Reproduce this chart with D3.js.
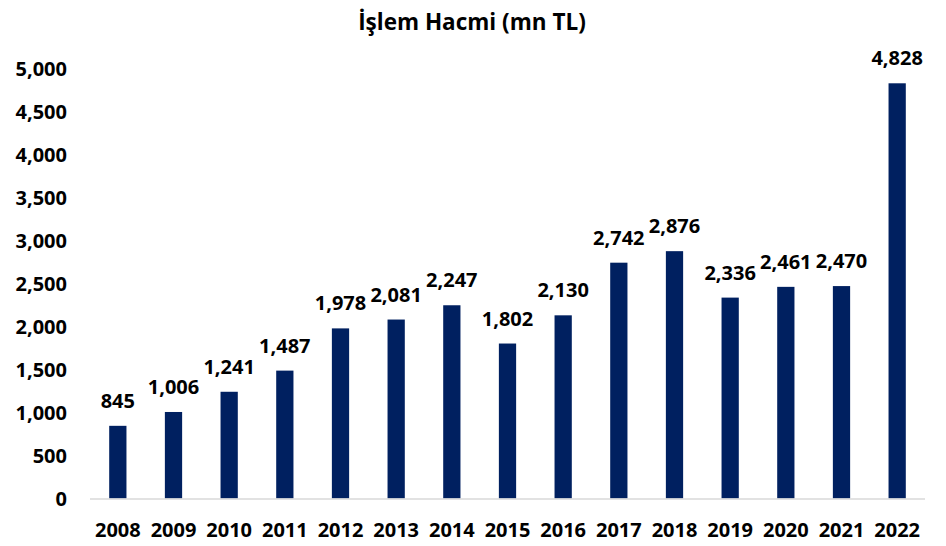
<!DOCTYPE html>
<html>
<head>
<meta charset="utf-8">
<script src="https://cdn.jsdelivr.net/npm/d3@7"></script>
<style>
  html, body { margin: 0; padding: 0; background: #fff; }
  svg text { font-family: "Open Sans", "DejaVu Sans", sans-serif; font-weight: 700; fill: #000; }
</style>
</head>
<body>
<svg id="chart" width="946" height="546"></svg>
<script>
const title = "İşlem Hacmi (mn TL)";
const years = ["2008","2009","2010","2011","2012","2013","2014","2015","2016","2017","2018","2019","2020","2021","2022"];
const values = [845, 1006, 1241, 1487, 1978, 2081, 2247, 1802, 2130, 2742, 2876, 2336, 2461, 2470, 4828];
const yTicks = [0, 500, 1000, 1500, 2000, 2500, 3000, 3500, 4000, 4500, 5000];

const svg = d3.select("#chart");
const fmt = d3.format(",");
const fs = "20px";

const x = d3.scaleBand().domain(years).range([90, 925]).paddingInner(0.69).paddingOuter(0.345);
const y = d3.scaleLinear().domain([0, 5000]).range([498.5, 68.5]);

svg.append("text")
  .attr("x", 472).attr("y", 30)
  .attr("text-anchor", "middle")
  .style("font-size", "22.5px")
  .text(title);

// y axis labels
const yAxis = d3.axisLeft(y).tickValues(yTicks).tickFormat(fmt).tickSize(0).tickPadding(0);
const gy = svg.append("g").attr("transform", "translate(67,0)").call(yAxis);
gy.select(".domain").remove();
gy.selectAll("text").style("font-size", fs).style("font-family", null).attr("dy", "0.35em");

// bars
svg.append("g").selectAll("rect").data(values).join("rect")
  .attr("x", (d, i) => x(years[i]))
  .attr("width", x.bandwidth())
  .attr("y", d => y(d))
  .attr("height", d => y(0) - y(d))
  .attr("fill", "#002060");

// baseline
svg.append("line")
  .attr("x1", 90).attr("x2", 925)
  .attr("y1", y(0) + 0.5).attr("y2", y(0) + 0.5)
  .attr("stroke", "#d9d9d9").attr("stroke-width", 1.5);

// x axis labels
const xAxis = d3.axisBottom(x).tickSize(0).tickPadding(0);
const gx = svg.append("g").attr("transform", "translate(0,523)").call(xAxis);
gx.select(".domain").remove();
gx.selectAll("text").style("font-size", fs).style("font-family", null).attr("dy", "0.71em");

// data labels
svg.append("g").selectAll("text").data(values).join("text")
  .attr("x", (d, i) => x(years[i]) + x.bandwidth() / 2)
  .attr("y", d => y(d) - 18)
  .attr("text-anchor", "middle")
  .style("font-size", fs)
  .text(d => fmt(d));
</script>
</body>
</html>
